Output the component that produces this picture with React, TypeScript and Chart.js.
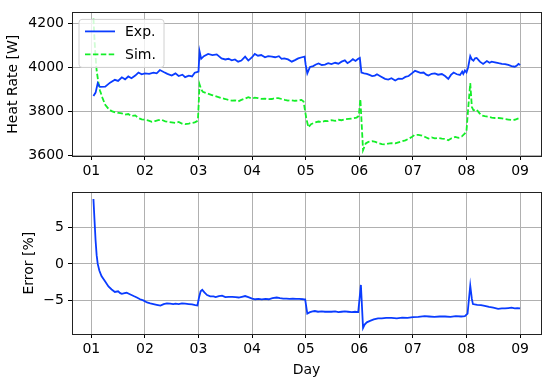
import React, { useEffect, useRef } from "react";
import { Chart, registerables } from "chart.js";

Chart.register(...registerables);

// ---- Data (x = day, y = value) ----
const dayTicks = [1, 2, 3, 4, 5, 6, 7, 8, 9];
const dayLabels = ["01", "02", "03", "04", "05", "06", "07", "08", "09"];

const rateTicks = [3600, 3800, 4000, 4200];
const rateTickLabels = ["3600", "3800", "4000", "4200"];
const errTicks = [-5, 0, 5];
const errTickLabels = ["\u22125", "0", "5"];

const expSeries: [number, number][] = [
  [1.04, 3870], [1.08, 3885], [1.12, 3928], [1.16, 3911], [1.26, 3912], [1.35, 3930],
  [1.44, 3943], [1.5, 3938], [1.57, 3954], [1.63, 3945], [1.69, 3958], [1.75, 3950],
  [1.82, 3962], [1.88, 3976], [1.94, 3968], [2.0, 3972], [2.08, 3970], [2.16, 3975],
  [2.22, 3972], [2.28, 3987], [2.35, 3978], [2.42, 3970], [2.5, 3962], [2.57, 3972],
  [2.63, 3960], [2.7, 3966], [2.75, 3955], [2.82, 3962], [2.88, 3958], [2.93, 3975],
  [2.97, 3978], [3.0, 3980], [3.02, 4071], [3.05, 4038], [3.1, 4050], [3.18, 4060],
  [3.26, 4055], [3.34, 4058], [3.43, 4040], [3.5, 4035], [3.56, 4038], [3.62, 4031],
  [3.68, 4035], [3.74, 4025], [3.8, 4030], [3.87, 4048], [3.93, 4030], [4.0, 4045],
  [4.05, 4060], [4.11, 4052], [4.17, 4055], [4.24, 4045], [4.3, 4050], [4.37, 4048],
  [4.43, 4045], [4.5, 4050], [4.55, 4038], [4.6, 4040], [4.67, 4035], [4.74, 4025],
  [4.8, 4032], [4.86, 4040], [4.93, 4045], [4.98, 4048], [5.0, 4010], [5.03, 3972],
  [5.08, 4001], [5.14, 4005], [5.19, 4012], [5.24, 4017], [5.3, 4010], [5.36, 4012],
  [5.42, 4018], [5.48, 4014], [5.55, 4020], [5.61, 4016], [5.67, 4025], [5.73, 4031],
  [5.78, 4018], [5.82, 4024], [5.88, 4036], [5.93, 4028], [5.98, 4038], [6.01, 4042],
  [6.04, 3976], [6.09, 3972], [6.14, 3970], [6.19, 3965], [6.24, 3960], [6.29, 3962],
  [6.33, 3968], [6.4, 3958], [6.48, 3947], [6.54, 3944], [6.6, 3950], [6.67, 3940],
  [6.73, 3948], [6.8, 3947], [6.86, 3956], [6.92, 3960], [6.98, 3972], [7.04, 3984],
  [7.08, 3980], [7.14, 3974], [7.2, 3976], [7.25, 3966], [7.29, 3962], [7.35, 3970],
  [7.41, 3972], [7.47, 3966], [7.54, 3969], [7.6, 3960], [7.66, 3947], [7.71, 3965],
  [7.76, 3976], [7.82, 3968], [7.88, 3965], [7.92, 3980], [7.94, 3970], [7.97, 3985],
  [8.0, 3976], [8.03, 3999], [8.07, 4050], [8.1, 4035], [8.13, 4029], [8.16, 4040],
  [8.19, 4042], [8.25, 4025], [8.31, 4015], [8.38, 4028], [8.43, 4020], [8.47, 4025],
  [8.53, 4022], [8.6, 4018], [8.66, 4015], [8.72, 4014], [8.78, 4010], [8.84, 4005],
  [8.9, 4002], [8.94, 4008], [8.97, 4015], [9.0, 4010],
];

const simSeries: [number, number][] = [
  [1.04, 4220], [1.07, 4080], [1.1, 3984], [1.13, 3935], [1.16, 3896], [1.21, 3860],
  [1.26, 3830], [1.32, 3812], [1.38, 3801], [1.45, 3795], [1.51, 3793], [1.57, 3791],
  [1.63, 3785], [1.69, 3788], [1.75, 3779], [1.82, 3782], [1.88, 3770], [1.94, 3764],
  [2.0, 3762], [2.07, 3758], [2.13, 3753], [2.19, 3756], [2.25, 3760], [2.31, 3762],
  [2.38, 3755], [2.44, 3752], [2.5, 3750], [2.57, 3748], [2.63, 3752], [2.69, 3745],
  [2.75, 3742], [2.82, 3745], [2.88, 3748], [2.93, 3750], [2.97, 3755], [2.99, 3764],
  [3.02, 3922], [3.05, 3900], [3.08, 3889], [3.15, 3882], [3.25, 3874], [3.33, 3868],
  [3.43, 3860], [3.5, 3856], [3.56, 3852], [3.62, 3849], [3.68, 3850], [3.74, 3845],
  [3.8, 3852], [3.87, 3858], [3.93, 3864], [4.0, 3858], [4.05, 3862], [4.11, 3860],
  [4.17, 3857], [4.24, 3858], [4.3, 3855], [4.37, 3856], [4.43, 3860], [4.49, 3860],
  [4.55, 3856], [4.61, 3852], [4.67, 3849], [4.74, 3850], [4.8, 3848], [4.86, 3849],
  [4.92, 3852], [4.96, 3845], [5.01, 3770], [5.05, 3728], [5.1, 3742], [5.17, 3750],
  [5.24, 3754], [5.3, 3752], [5.36, 3757], [5.42, 3756], [5.48, 3760], [5.55, 3757],
  [5.61, 3762], [5.67, 3760], [5.73, 3764], [5.8, 3766], [5.87, 3768], [5.95, 3772],
  [5.99, 3779], [6.02, 3855], [6.07, 3625], [6.12, 3655], [6.17, 3662], [6.24, 3665],
  [6.3, 3662], [6.36, 3656], [6.42, 3652], [6.48, 3650], [6.54, 3654], [6.6, 3656],
  [6.67, 3655], [6.73, 3660], [6.8, 3665], [6.86, 3669], [6.92, 3676], [6.98, 3684],
  [7.03, 3693], [7.1, 3694], [7.17, 3690], [7.23, 3684], [7.29, 3677], [7.35, 3682],
  [7.41, 3678], [7.47, 3680], [7.54, 3677], [7.6, 3675], [7.66, 3669], [7.72, 3678],
  [7.79, 3684], [7.85, 3680], [7.91, 3686], [7.97, 3700], [8.0, 3712], [8.03, 3808],
  [8.07, 3928], [8.1, 3820], [8.13, 3805], [8.19, 3808], [8.24, 3792], [8.28, 3782],
  [8.34, 3778], [8.41, 3776], [8.47, 3772], [8.53, 3770], [8.6, 3770], [8.66, 3768],
  [8.72, 3765], [8.78, 3763], [8.84, 3761], [8.9, 3762], [8.97, 3768],
];

const errSeries: [number, number][] = [
  [1.04, 8.9], [1.06, 6.0], [1.08, 3.2], [1.1, 1.2], [1.12, 0.0], [1.15, -0.9],
  [1.19, -1.65], [1.25, -2.3], [1.32, -3.09], [1.38, -3.5], [1.44, -3.84], [1.5, -3.75],
  [1.54, -4.0], [1.57, -4.1], [1.62, -4.0], [1.66, -3.95], [1.72, -4.15], [1.79, -4.4],
  [1.85, -4.6], [1.91, -4.84], [1.97, -5.0], [2.04, -5.28], [2.1, -5.4], [2.16, -5.5],
  [2.22, -5.6], [2.29, -5.71], [2.35, -5.5], [2.41, -5.4], [2.47, -5.45], [2.53, -5.5],
  [2.57, -5.45], [2.63, -5.5], [2.69, -5.4], [2.75, -5.45], [2.82, -5.5], [2.88, -5.55],
  [2.94, -5.65], [2.98, -5.7], [3.01, -4.6], [3.04, -3.75], [3.07, -3.55], [3.11, -3.9],
  [3.16, -4.27], [3.22, -4.45], [3.28, -4.45], [3.32, -4.55], [3.38, -4.4], [3.44, -4.35],
  [3.5, -4.55], [3.56, -4.5], [3.63, -4.5], [3.69, -4.55], [3.75, -4.6], [3.81, -4.5],
  [3.87, -4.4], [3.93, -4.55], [4.0, -4.75], [4.06, -4.84], [4.12, -4.8], [4.18, -4.85],
  [4.25, -4.8], [4.31, -4.84], [4.38, -4.7], [4.46, -4.6], [4.52, -4.7], [4.58, -4.75],
  [4.64, -4.75], [4.7, -4.8], [4.76, -4.75], [4.82, -4.8], [4.88, -4.78], [4.96, -4.84],
  [4.99, -4.85], [5.03, -6.8], [5.08, -6.6], [5.13, -6.5], [5.17, -6.45], [5.23, -6.55],
  [5.3, -6.5], [5.36, -6.55], [5.42, -6.55], [5.48, -6.55], [5.55, -6.5], [5.61, -6.6],
  [5.67, -6.55], [5.73, -6.5], [5.79, -6.55], [5.86, -6.6], [5.92, -6.55], [5.98, -6.6],
  [6.03, -2.88], [6.07, -8.77], [6.1, -8.3], [6.14, -8.0], [6.2, -7.8], [6.27, -7.6],
  [6.35, -7.46], [6.42, -7.45], [6.5, -7.4], [6.6, -7.4], [6.7, -7.45], [6.8, -7.35],
  [6.9, -7.4], [7.0, -7.3], [7.1, -7.25], [7.22, -7.15], [7.3, -7.2], [7.4, -7.25],
  [7.5, -7.2], [7.6, -7.2], [7.7, -7.25], [7.8, -7.15], [7.9, -7.2], [7.97, -7.15],
  [8.02, -6.8], [8.07, -2.96], [8.1, -4.8], [8.12, -5.5], [8.2, -5.6], [8.27, -5.65],
  [8.34, -5.75], [8.42, -5.9], [8.5, -6.0], [8.59, -6.15], [8.66, -6.1], [8.72, -6.1],
  [8.78, -6.05], [8.84, -6.0], [8.9, -6.1], [8.95, -6.05], [9.0, -6.1],
];

const seriesNames = ["Exp.", "Sim."];
const BLUE = "#0a3cff";
const GREEN = "#14ee28";
const FONT = "DejaVu Sans";
const FS = 14;
const LW = 1.8;

Chart.defaults.font.family = FONT;
Chart.defaults.color = "#000";

const toXY = (s: [number, number][]) => s.map(([x, y]) => ({ x, y }));

const framePlugin = {
  id: "frame",
  afterDatasetsDraw(chart: any) {
    const { ctx, chartArea: a } = chart;
    ctx.save();
    ctx.strokeStyle = "#222";
    ctx.lineWidth = 1;
    ctx.strokeRect(Math.round(a.left) + 0.5, Math.round(a.top) + 0.5,
      Math.round(a.right) - Math.round(a.left), Math.round(a.bottom) - Math.round(a.top));
    ctx.restore();
  },
};

const legendPlugin = {
  id: "boxLegend",
  afterDraw(chart: any) {
    const { ctx, chartArea: a } = chart;
    const x = a.left + 7, y = a.top + 7, w = 85, h = 48, r = 3;
    ctx.save();
    ctx.beginPath();
    ctx.moveTo(x + r, y);
    ctx.arcTo(x + w, y, x + w, y + h, r);
    ctx.arcTo(x + w, y + h, x, y + h, r);
    ctx.arcTo(x, y + h, x, y, r);
    ctx.arcTo(x, y, x + w, y, r);
    ctx.closePath();
    ctx.fillStyle = "rgba(255,255,255,0.8)";
    ctx.fill();
    ctx.strokeStyle = "#d0d0d0";
    ctx.lineWidth = 1;
    ctx.stroke();
    const rows = [
      { c: BLUE, dash: [] as number[], t: seriesNames[0], yy: y + 12 },
      { c: GREEN, dash: [5.5, 2.4], t: seriesNames[1], yy: y + 35 },
    ];
    ctx.font = `${FS}px '${FONT}'`;
    ctx.textBaseline = "middle";
    ctx.fillStyle = "#000";
    for (const row of rows) {
      ctx.beginPath();
      ctx.setLineDash(row.dash);
      ctx.strokeStyle = row.c;
      ctx.lineWidth = LW;
      ctx.moveTo(x + 6, row.yy);
      ctx.lineTo(x + 36, row.yy);
      ctx.stroke();
      ctx.setLineDash([]);
      ctx.fillText(row.t, x + 46, row.yy + 1);
    }
    ctx.restore();
  },
};

function xScale(showTitle: boolean, height: number) {
  return {
    type: "linear" as const,
    min: 0.64,
    max: 9.39,
    afterBuildTicks: (s: any) => { s.ticks = dayTicks.map((v) => ({ value: v })); },
    afterFit: (s: any) => { s.height = height; },
    ticks: {
      callback: (v: any) => dayLabels[dayTicks.indexOf(Number(v))] ?? "",
      font: { size: FS },
      color: "#000",
      padding: 3,
      maxRotation: 0,
      autoSkip: false,
    },
    grid: { color: "#b0b0b0", lineWidth: 1, tickColor: "#000", tickLength: 4, drawTicks: true },
    border: { display: false },
    title: showTitle
      ? { display: true, text: "Day", font: { size: FS }, color: "#000", padding: { top: 0, bottom: 4 } }
      : { display: false },
  };
}

function yScale(min: number, max: number, ticks: number[], labels: string[], title: string, titlePad: number) {
  return {
    type: "linear" as const,
    min,
    max,
    afterBuildTicks: (s: any) => { s.ticks = ticks.map((v) => ({ value: v })); },
    afterFit: (s: any) => { s.width = 72; },
    ticks: {
      callback: (v: any) => labels[ticks.indexOf(Number(v))] ?? "",
      font: { size: FS },
      color: "#000",
      padding: 4,
    },
    grid: { color: "#b0b0b0", lineWidth: 1, tickColor: "#000", tickLength: 4 },
    border: { display: false },
    title: { display: true, text: title, font: { size: FS }, color: "#000", padding: { top: titlePad, bottom: 0 } },
  };
}

export default function App() {
  const topRef = useRef<HTMLCanvasElement>(null);
  const botRef = useRef<HTMLCanvasElement>(null);

  useEffect(() => {
    const top = new Chart(topRef.current!, {
      type: "line",
      data: {
        datasets: [
          { label: seriesNames[0], data: toXY(expSeries), borderColor: BLUE, borderWidth: LW, pointRadius: 0, fill: false, tension: 0 },
          { label: seriesNames[1], data: toXY(simSeries), borderColor: GREEN, borderWidth: LW, borderDash: [5.5, 2.4], pointRadius: 0, fill: false, tension: 0 },
        ],
      },
      options: {
        responsive: false,
        animation: false,
        layout: { padding: { left: 0, right: 9, top: 8, bottom: 0 } },
        plugins: { legend: { display: false }, tooltip: { enabled: false } },
        scales: {
          x: xScale(false, 24),
          y: yScale(3598, 4248, rateTicks, rateTickLabels, "Heat Rate [W]", 5),
        },
      } as any,
      plugins: [framePlugin, legendPlugin],
    });
    const bot = new Chart(botRef.current!, {
      type: "line",
      data: {
        datasets: [
          { label: "Error", data: toXY(errSeries), borderColor: BLUE, borderWidth: LW, pointRadius: 0, fill: false, tension: 0 },
        ],
      },
      options: {
        responsive: false,
        animation: false,
        layout: { padding: { left: 0, right: 9, top: 6, bottom: 0 } },
        plugins: { legend: { display: false }, tooltip: { enabled: false } },
        scales: {
          x: xScale(true, 49),
          y: yScale(-9.6, 9.8, errTicks, errTickLabels, "Error [%]", 21),
        },
      } as any,
      plugins: [framePlugin],
    });
    return () => { top.destroy(); bot.destroy(); };
  }, []);

  return (
    <div style={{ position: "fixed", left: 0, top: 0, width: 550, height: 383, background: "#fff" }}>
      <canvas ref={topRef} width={550} height={180} style={{ position: "absolute", left: 0, top: 0, width: 550, height: 180 }} />
      <canvas ref={botRef} width={550} height={203} style={{ position: "absolute", left: 0, top: 180, width: 550, height: 203 }} />
    </div>
  );
}
